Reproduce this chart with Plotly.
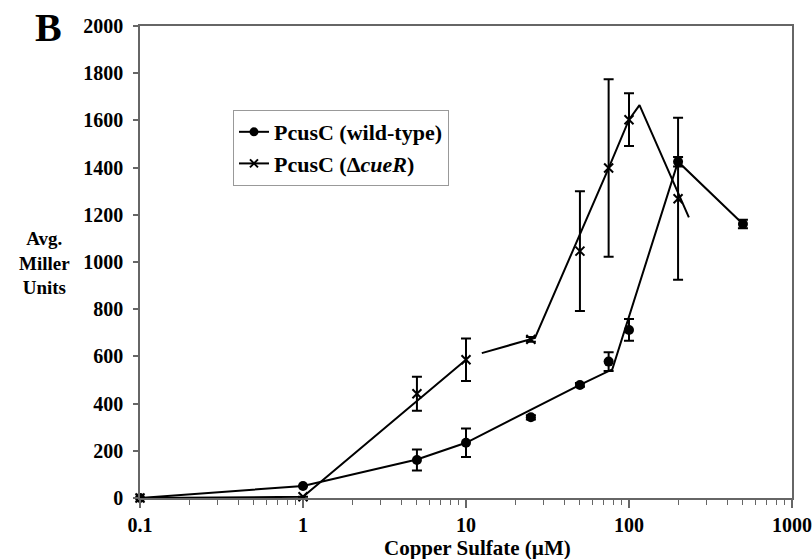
import plotly.graph_objects as go

# ---- data ----
conc_wt = [0.1, 1, 5, 10, 25, 50, 75, 100, 200, 500]
miller_wt = [0, 51, 161, 234, 342, 479, 578, 712, 1425, 1161]
err_wt = [0, 0, 45, 60, 9, 8, 40, 46, 20, 18]

conc_cue = [0.1, 1, 5, 10, 25, 50, 75, 100, 200]
miller_cue = [0, 5, 442, 586, 672, 1046, 1398, 1603, 1268]
err_cue = [0, 0, 72, 90, 10, 254, 376, 112, 343]

# hand-drawn connecting lines (vertices as drawn in the original)
line_wt_x = [0.1, 1, 5, 10, 50, 79, 200, 500]
line_wt_y = [0, 51, 163, 234, 479, 545, 1425, 1161]
line_cue_x = [0.1, 1, 10, None, 12.5, 26.5, 75, 100, 116, 233]
line_cue_y = [0, 5, 586, None, 614, 678, 1398, 1603, 1665, 1189]

x_tickvals = [0.1, 1, 10, 100, 1000]
x_ticktext = ["0.1", "1", "10", "100", "1000"]
y_tickvals = list(range(0, 2001, 200))

names = ["PcusC (wild-type)", "PcusC (Δ<i>cueR</i>)"]

FONT = "Liberation Serif"
AXC = "#666666"

fig = go.Figure()

fig.add_trace(go.Scatter(x=line_wt_x, y=line_wt_y, mode="lines",
                         line=dict(color="black", width=2),
                         showlegend=False, hoverinfo="skip", cliponaxis=False))
fig.add_trace(go.Scatter(x=line_cue_x, y=line_cue_y, mode="lines",
                         line=dict(color="black", width=2), connectgaps=False,
                         showlegend=False, hoverinfo="skip", cliponaxis=False))

fig.add_trace(go.Scatter(x=conc_wt, y=miller_wt, mode="markers",
                         marker=dict(symbol="circle", size=10, color="black"),
                         error_y=dict(type="data", array=err_wt, visible=True,
                                      color="black", thickness=2, width=5),
                         showlegend=False, cliponaxis=False))
fig.add_trace(go.Scatter(x=conc_cue, y=miller_cue, mode="markers",
                         marker=dict(symbol="x-thin", size=9, color="black",
                                     line=dict(width=2, color="black")),
                         error_y=dict(type="data", array=err_cue, visible=True,
                                      color="black", thickness=2, width=5),
                         showlegend=False, cliponaxis=False))

# legend entries
fig.add_trace(go.Scatter(x=[None], y=[None], mode="lines+markers", name=names[0],
                         line=dict(color="black", width=2),
                         marker=dict(symbol="circle", size=9, color="black")))
fig.add_trace(go.Scatter(x=[None], y=[None], mode="lines+markers", name=names[1],
                         line=dict(color="black", width=2),
                         marker=dict(symbol="x-thin", size=8, color="black",
                                     line=dict(width=2, color="black"))))

minor_vals = [d * k for d in [0.1, 1, 10, 100] for k in range(2, 10)]

fig.update_xaxes(type="log", range=[-1, 3.0], tickmode="array",
                 tickvals=x_tickvals, ticktext=x_ticktext, automargin=False,
                 showline=True, linecolor=AXC, linewidth=1.5, mirror=True,
                 ticks="outside", ticklen=8, tickwidth=1.5, tickcolor=AXC,
                 minor=dict(tickmode="array", tickvals=minor_vals, ticks="outside",
                            ticklen=5, tickwidth=1, tickcolor=AXC, showgrid=False),
                 showgrid=False, zeroline=False,
                 tickfont=dict(family=FONT, size=20, color="black", weight="bold"))
fig.update_yaxes(range=[0, 2000], tickmode="array", tickvals=y_tickvals,
                 automargin=False,
                 showline=True, linecolor=AXC, linewidth=1.5, mirror=True,
                 ticks="outside", ticklen=5, tickwidth=1.5, tickcolor=AXC,
                 showgrid=False, zeroline=False, ticklabelstandoff=6,
                 tickfont=dict(family=FONT, size=20, color="black", weight="bold"))

annotations = [
    dict(text="B", x=-0.141, y=0.996, font=dict(size=40)),
    dict(text="Avg.<br>Miller<br>Units", x=-0.147, y=(498 - 263) / 472,
         font=dict(size=19)),
    dict(text="Copper Sulfate (µM)", x=0.518, y=(498 - 548) / 472, font=dict(size=21)),
]
for a in annotations:
    a.update(xref="paper", yref="paper", showarrow=False,
             xanchor="center", yanchor="middle")
    a["font"].update(family=FONT, color="black", weight="bold")

fig.update_layout(
    width=812, height=559,
    margin=dict(l=140, r=20, t=26, b=61),
    paper_bgcolor="white", plot_bgcolor="white",
    showlegend=True,
    legend=dict(x=0.1426, y=0.822, xanchor="left", yanchor="top",
                bordercolor="#999999", borderwidth=1, bgcolor="white",
                font=dict(family=FONT, size=22, color="black", weight="bold"),
                itemwidth=30, tracegroupgap=0),
    annotations=annotations,
)

fig.write_html("out.html")
